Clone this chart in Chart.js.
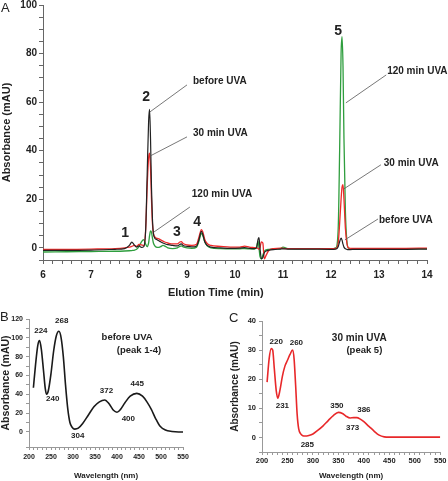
<!DOCTYPE html>
<html><head><meta charset="utf-8">
<script src="https://cdn.jsdelivr.net/npm/chart.js@4.4.1/dist/chart.umd.min.js"></script>
<style>
html,body{margin:0;padding:0;background:#fff;}
#wrap{position:relative;width:448px;height:481px;overflow:hidden;font-family:"Liberation Sans",Arial,sans-serif;}
canvas{position:absolute;}
.lbl{position:absolute;font-size:13px;color:#222;line-height:1;}
</style></head><body>
<div id="wrap">
<canvas id="cA" width="448" height="305" style="left:0;top:-5px"></canvas>
<canvas id="cB" width="224" height="181" style="left:0;top:300px"></canvas>
<canvas id="cC" width="224" height="181" style="left:224px;top:300px"></canvas>
<div class="lbl" style="left:1px;top:1px">A</div>
<div class="lbl" style="left:0px;top:310px">B</div>
<div class="lbl" style="left:229px;top:311px">C</div>
</div>
<script>
// ---------- Panel A: chromatograms ----------
const time = [6.0,6.5,7.0,7.5,7.7,7.8,7.85,7.9,7.95,8.0,8.05,8.1,8.14,8.17,8.2,8.22,8.24,8.26,8.28,8.3,8.33,8.36,8.4,8.45,8.5,8.55,8.6,8.7,8.8,8.85,8.88,8.92,9.0,9.1,9.2,9.25,9.3,9.33,9.37,9.42,9.5,9.7,9.9,10.1,10.2,10.3,10.4,10.45,10.48,10.5,10.52,10.55,10.58,10.61,10.65,10.7,10.8,10.95,11.0,11.1,11.5,12.0,12.1,12.15,12.18,12.21,12.23,12.25,12.27,12.3,12.33,12.36,12.4,12.5,13.0,13.5,14.0];
const beforeUVA = [-1.0,-1.0,-0.9,-0.6,-0.3,1.0,2.4,1.2,0.3,0.8,0.2,0.5,8,30,52,57,45,25,12,6,4,3.5,3.0,2.5,2.0,1.6,1.3,1.0,0.8,1.4,1.6,1.0,0.6,0.4,0.8,3.5,6.8,5.5,2.5,1.0,0.3,0.0,-0.2,-0.1,0.1,-0.2,-0.3,0,3.5,4.2,0,-4.5,-4,-2,-1.3,-1.0,-0.7,-0.5,-0.4,-0.5,-0.5,-0.6,-0.5,0.5,2.5,4.0,3.2,1.5,0.3,-0.4,-0.6,-0.7,-0.7,-0.6,-0.6,-0.6,-0.5];
const uva30 = [-0.6,-0.6,-0.5,-0.3,0,0.3,0.6,1.0,0.6,1.4,1.2,1.0,8,25,37,39,33,20,10,6,4.5,4.0,3.8,3.3,2.8,2.3,2.0,1.6,1.6,2.4,2.6,1.8,1.2,1.0,1.5,4.5,7.5,6.5,3.5,1.8,1.0,0.6,0.3,0.3,0.7,0.3,0.1,0.0,-0.2,-0.5,0,2.5,2.0,-4.5,-3,-1.2,-0.3,-0.1,-0.2,-0.3,-0.3,-0.3,-0.2,2,10,20,25,26,20,8,2,0,-0.2,-0.2,-0.2,-0.2,-0.1];
const uva120 = [-1.7,-1.6,-1.5,-1.4,-1.3,-1.2,-1.1,-1.0,-0.6,0.5,2.5,3.4,1.5,0.5,2,5,7,6.5,4,2,0.8,0.3,0.2,0.5,1.0,0.6,0.0,-0.3,0.0,0.6,0.8,0.4,0.0,-0.2,0.3,2.8,6,5,2.5,0.8,0.0,-0.3,-0.4,-0.4,-0.3,-0.4,-0.5,0.5,2.8,0,-3.5,-4.5,-3,-1.5,-0.8,-0.6,-0.5,-0.3,0.3,-0.3,-0.4,-0.4,0,8,40,80,87,75,45,15,3,0,-0.3,-0.4,-0.4,-0.4,-0.3];

// ---------- Panel B: spectrum before UVA (peak 1-4) ----------
const wavelengthB = [210,215,220,224,228,233,237,240,244,250,256,262,268,273,278,283,288,293,298,304,312,322,335,348,360,372,382,392,400,408,418,430,445,458,468,478,488,498,510,525,540,550];
const absorbanceB = [47,72,92,97,88,65,46,40,44,62,86,102,107,100,80,50,25,10,5,3,4,9,18,27,32,34,30,23,21,24,31,38,41,38,32,24,14,6,2,0.5,0,0];

// ---------- Panel C: spectrum 30 min UVA (peak 5) ----------
const wavelengthC = [210,214,218,221,224,228,231,235,240,245,250,255,260,263,266,269,272,276,280,285,292,300,310,320,330,340,350,358,365,373,380,386,393,400,410,420,430,440,450,500,550];
const absorbanceC = [19,27,30.5,30,24,16,13.5,16,21,24.5,26.5,28.5,30,27,18,8,3,1.2,0.6,0.5,0.7,1.2,2.5,4,5.8,7.5,8.6,8.2,7.3,6.7,6.8,6.8,6.3,5.4,3.8,2.2,0.8,0.2,0.1,0.1,0.1];

const FONT = "'Liberation Sans', Arial, sans-serif";
Chart.defaults.font.family = FONT;
Chart.defaults.color = '#222';

const pts = (xs, ys) => xs.map((v, i) => ({x: v, y: ys[i]}));
const isMult = (v, m) => Math.abs(v / m - Math.round(v / m)) < 1e-6;

const annotPlugin = {
  id: 'annot',
  afterDatasetsDraw(chart, args, opts) {
    const {ctx, scales: {x, y}} = chart;
    ctx.save();
    (opts.lines || []).forEach(l => {
      ctx.strokeStyle = l.color || '#555';
      ctx.lineWidth = l.width || 0.8;
      ctx.beginPath();
      ctx.moveTo(x.getPixelForValue(l.x1), y.getPixelForValue(l.y1));
      ctx.lineTo(x.getPixelForValue(l.x2), y.getPixelForValue(l.y2));
      ctx.stroke();
    });
    (opts.texts || []).forEach(t => {
      ctx.font = t.font;
      ctx.fillStyle = t.color || '#222';
      ctx.textAlign = t.align || 'center';
      ctx.textBaseline = 'middle';
      ctx.fillText(t.text, x.getPixelForValue(t.x), y.getPixelForValue(t.y));
    });
    ctx.restore();
  }
};

const base = {
  animation: false, responsive: false, devicePixelRatio: 1, events: [],
  elements: {point: {radius: 0}, line: {cubicInterpolationMode: 'monotone'}}
};

const fA = 'bold 10px ' + FONT, fP = 'bold 14px ' + FONT;
new Chart(document.getElementById('cA'), {
  type: 'line',
  data: {datasets: [
    {data: pts(time, beforeUVA), borderColor: '#222222', borderWidth: 1.2},
    {data: pts(time, uva30), borderColor: '#ee2a2a', borderWidth: 1.3},
    {data: pts(time, uva120), borderColor: '#2f9e3e', borderWidth: 1.3}
  ]},
  options: Object.assign({}, base, {
    layout: {padding: {top: 10, right: 21, left: 0, bottom: 0}},
    scales: {
      x: {type: 'linear', min: 6, max: 14,
        ticks: {stepSize: 0.2, autoSkip: false, maxRotation: 0, padding: 5, color: '#222', font: {size: 10, weight: 'bold'},
          callback: v => isMult(v, 1) ? String(Math.round(v)) : ''},
        grid: {drawOnChartArea: false, tickLength: 4, color: '#666'},
        border: {color: '#666'},
        afterFit: s => { s.height = 40; }},
      y: {min: -5, max: 100,
        ticks: {stepSize: 5, autoSkip: false, padding: 2, color: '#222', font: {size: 10, weight: 'bold'},
          callback: v => isMult(v, 20) ? String(Math.round(v)) : ''},
        grid: {drawOnChartArea: false, tickLength: 4, color: '#666'},
        border: {color: '#666'},
        title: {display: true, text: 'Absorbance (mAU)', color: '#222', font: {size: 11, weight: 'bold'}, padding: {top: 0, bottom: 0}},
        afterFit: s => { s.width = 43; }}
    },
    plugins: {legend: {display: false}, tooltip: {enabled: false},
      annot: {
        lines: [
          {x1: 8.23, y1: 56, x2: 9.0, y2: 67.1},
          {x1: 8.23, y1: 37.8, x2: 9.0, y2: 45.7},
          {x1: 8.31, y1: 6.5, x2: 9.06, y2: 16.8},
          {x1: 12.31, y1: 59.7, x2: 13.15, y2: 71.2},
          {x1: 12.27, y1: 24.3, x2: 13.04, y2: 34.2},
          {x1: 12.29, y1: 3.3, x2: 12.98, y2: 11.9}
        ],
        texts: [
          {text: 'before UVA', x: 9.125, y: 68.7, align: 'left', font: fA},
          {text: '30 min UVA', x: 9.125, y: 47.3, align: 'left', font: fA},
          {text: '120 min UVA', x: 9.10, y: 22.2, align: 'left', font: fA},
          {text: '120 min UVA', x: 13.17, y: 72.9, align: 'left', font: fA},
          {text: '30 min UVA', x: 13.10, y: 35, align: 'left', font: fA},
          {text: 'before UVA', x: 13.0, y: 11.5, align: 'left', font: fA},
          {text: '1', x: 7.71, y: 6.1, font: fP},
          {text: '2', x: 8.15, y: 62.2, font: fP},
          {text: '3', x: 8.79, y: 6.5, font: fP},
          {text: '4', x: 9.21, y: 10.7, font: fP},
          {text: '5', x: 12.15, y: 89.3, font: fP},
          {text: 'Elution Time (min)', x: 9.6, y: -18.6, font: 'bold 11px ' + FONT}
        ]
      }}
  }),
  plugins: [annotPlugin]
});

function spectrum(id, xs, ys, color, o) {
  return new Chart(document.getElementById(id), {
    type: 'line',
    data: {datasets: [{data: pts(xs, ys), borderColor: color, borderWidth: 1.6}]},
    options: Object.assign({}, base, {
      layout: {padding: o.pad},
      scales: {
        x: {type: 'linear', min: 200, max: 550,
          ticks: {stepSize: 10, autoSkip: false, maxRotation: 0, padding: o.xpad, color: '#222', font: {size: o.tick, weight: 'bold'},
            callback: v => isMult(v, 50) ? String(Math.round(v)) : ''},
          grid: {drawOnChartArea: false, tickLength: 3, color: '#999'},
          border: {color: '#999'},
          title: {display: true, text: 'Wavelength (nm)', color: '#222', font: {size: 8, weight: 'bold'}, padding: {top: 0, bottom: 0.5}},
          afterFit: s => { s.height = o.xh; }},
        y: {min: o.ymin, max: o.ymax,
          ticks: {stepSize: o.ystep, autoSkip: false, padding: 3, color: '#222', font: {size: o.tick, weight: 'bold'},
            callback: v => isMult(v, o.ylab) ? String(Math.round(v)) : ''},
          grid: {drawOnChartArea: false, tickLength: 3, color: '#999'},
          border: {color: '#999'},
          title: {display: true, text: 'Absorbance (mAU)', color: '#222', font: {size: o.yt, weight: 'bold'}, padding: {top: o.ytpad, bottom: 0}},
          afterFit: s => { s.width = o.yw; }}
      },
      plugins: {legend: {display: false}, tooltip: {enabled: false}, annot: {texts: o.texts}}
    }),
    plugins: [annotPlugin]
  });
}

const fN = 'bold 8px ' + FONT;
spectrum('cB', wavelengthB, absorbanceB, '#1a1a1a', {
  pad: {top: 19, right: 41, left: 0, bottom: 0}, xpad: 3, xh: 34, yw: 29, tick: 7,
  ymin: -16, ymax: 120, ystep: 10, ylab: 20, yt: 10.5, ytpad: 0,
  texts: [
    {text: '224', x: 227, y: 107, font: fN},
    {text: '268', x: 274.5, y: 117.7, font: fN},
    {text: '240', x: 254, y: 35.6, font: fN},
    {text: '304', x: 310.6, y: -4.4, font: fN},
    {text: '372', x: 376, y: 44, font: fN},
    {text: '400', x: 425.7, y: 13.5, font: fN},
    {text: '445', x: 446, y: 51.5, font: fN},
    {text: 'before UVA', x: 423, y: 100.6, font: 'bold 9.5px ' + FONT},
    {text: '(peak 1-4)', x: 450, y: 87, font: 'bold 9.5px ' + FONT}
  ]
});

spectrum('cC', wavelengthC, absorbanceC, '#e8282a', {
  pad: {top: 21, right: 7, left: 0, bottom: 0}, xpad: 1.5, xh: 29, yw: 38, tick: 7.5,
  ymin: -5, ymax: 40, ystep: 5, ylab: 10, yt: 10, ytpad: 5,
  texts: [
    {text: '220', x: 228, y: 32.8, font: fN},
    {text: '260', x: 267.5, y: 32.5, font: fN},
    {text: '231', x: 240, y: 10.7, font: fN},
    {text: '285', x: 289, y: -2.4, font: fN},
    {text: '350', x: 347, y: 10.9, font: fN},
    {text: '386', x: 400, y: 9.6, font: fN},
    {text: '373', x: 378, y: 3.4, font: fN},
    {text: '30 min UVA', x: 391, y: 34.2, font: 'bold 10px ' + FONT},
    {text: '(peak 5)', x: 401, y: 30, font: 'bold 9.5px ' + FONT}
  ]
});
</script>
</body></html>
